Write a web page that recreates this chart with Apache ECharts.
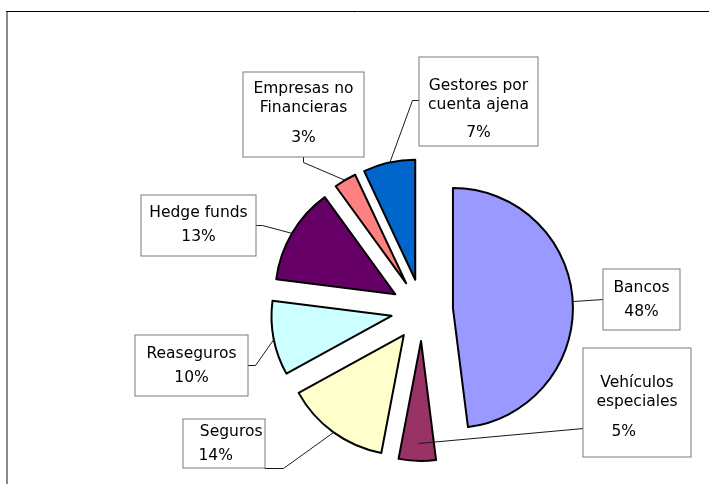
<!DOCTYPE html>
<html>
<head>
<meta charset="utf-8">
<script src="https://cdn.jsdelivr.net/npm/echarts@6/dist/echarts.min.js"></script>
<style>
  html, body { margin: 0; padding: 0; background: #fff; }
  #main { width: 709px; height: 484px; }
</style>
</head>
<body>
<div id="main"></div>
<script>
// Sector shares (%), clockwise from 12 o'clock
const categories = ['Bancos', 'Vehículos\nespeciales', 'Seguros', 'Reaseguros', 'Hedge funds', 'Empresas no\nFinancieras', 'Gestores por\ncuenta ajena'];
const shares = [48, 5, 14, 10, 13, 3, 7];
const sliceColors = ['#9999FF', '#993366', '#FFFFCC', '#CCFFFF', '#660066', '#FF8080', '#0066CC'];

// Pie geometry
const PIE_CENTER = [422, 310];
const PIE_RADIUS = 120;
const EXPLODE = 31;

// Callout boxes: left, top, width, height, first text line centre, percent line centre,
// name alignment, percent alignment, percent inset
const labelBoxes = [
  [603, 269, 76, 60, 287, 311, 'center', 'center', 0],
  [583, 348, 107, 108, 382, 431, 'center', 'left', 28],
  [183, 419, 81, 48, 431, 455, 'right', 'left', 15],
  [135, 335, 112, 60, 353, 377, 'center', 'center', 0],
  [141, 195, 114, 60, 212, 236, 'center', 'center', 0],
  [243, 72, 120, 84, 88, 137, 'center', 'center', 0],
  [419, 57, 118, 88, 85, 132, 'center', 'center', 0]
];

// Leader lines: depth along the slice's mid-angle (fraction of radius), then the
// callout-side points (elbow, attachment on the box)
const leaderRoutes = [
  { depth: 1.0, pts: [[603, 299]] },
  { depth: 0.85, pts: [[583, 428]] },
  { depth: 1.0, pts: [[283, 468], [264, 468]] },
  { depth: 1.0, pts: [[255, 365], [247, 365]] },
  { depth: 1.0, pts: [[262, 225], [255, 225]] },
  { depth: 1.0, pts: [[303, 162], [303, 156]] },
  { depth: 1.0, pts: [[412, 100], [419, 100]] }
];

const FONT = 'DejaVu Sans';
const FONT_SIZE = 15.5;
const NAME_LH = 19;

// Point on a slice's mid-angle ray, after the slice is pulled out
function slicePoint(i, depth) {
  const total = shares.reduce((a, b) => a + b, 0);
  let before = 0;
  for (let k = 0; k < i; k++) before += shares[k];
  const mid = (before + shares[i] / 2) / total * 2 * Math.PI;
  const dist = EXPLODE + depth * PIE_RADIUS;
  return [PIE_CENTER[0] + dist * Math.sin(mid), PIE_CENTER[1] - dist * Math.cos(mid)];
}

const pieData = categories.map((name, i) => ({
  name: name,
  value: shares[i],
  selected: true,
  itemStyle: { color: sliceColors[i] }
}));

const graphics = [
  // chart frame
  { type: 'rect', silent: true, z: 0, shape: { x: 6, y: 11, width: 2, height: 480 }, style: { fill: '#8a8a8a' } },
  { type: 'line', silent: true, z: 0, shape: { x1: 6, y1: 11.5, x2: 709, y2: 11.5 }, style: { stroke: '#000', lineWidth: 1 } }
];

categories.forEach((name, i) => {
  const b = labelBoxes[i];
  const route = leaderRoutes[i];
  const start = slicePoint(i, route.depth);
  const pts = [start].concat(route.pts).map(p => [Math.round(p[0]) + 0.5, Math.round(p[1]) + 0.5]);
  graphics.push({
    type: 'polyline', silent: true, z: 10,
    shape: { points: pts },
    style: { stroke: '#1a1a1a', lineWidth: 1, fill: null }
  });

  const nLines = name.split('\n').length;
  const padTop = b[4] - b[1] - NAME_LH / 2;
  const lastCentre = b[4] + (nLines - 1) * NAME_LH;
  const pctLH = 2 * (b[5] - lastCentre - NAME_LH / 2);
  graphics.push({
    type: 'text', silent: true, z: 20,
    x: b[0] + 0.5, y: b[1] + 0.5,
    style: {
      text: '{n|' + name + '}\n{p|' + shares[i] + '%}',
      width: b[2],
      height: b[3] - padTop,
      padding: [padTop, 0, 0, 0],
      align: 'left',
      verticalAlign: 'top',
      backgroundColor: '#fff',
      borderColor: '#7a7a7a',
      borderWidth: 1,
      rich: {
        n: { fontFamily: FONT, fontSize: FONT_SIZE, lineHeight: NAME_LH, fill: '#000', align: b[6], padding: b[6] === 'right' ? [0, 2, 0, 0] : 0 },
        p: { fontFamily: FONT, fontSize: FONT_SIZE, lineHeight: pctLH, fill: '#000', align: b[7], padding: [0, 0, 0, b[8]] }
      }
    }
  });
});

const chart = echarts.init(document.getElementById('main'), null, { renderer: 'canvas' });

chart.setOption({
  backgroundColor: '#fff',
  animation: false,
  graphic: graphics,
  series: [{
    type: 'pie',
    z: 2,
    center: PIE_CENTER,
    radius: [0, PIE_RADIUS],
    startAngle: 90,
    clockwise: true,
    selectedMode: 'multiple',
    selectedOffset: EXPLODE,
    avoidLabelOverlap: false,
    emphasis: { disabled: true },
    itemStyle: { borderColor: '#000', borderWidth: 2 },
    select: { itemStyle: { borderColor: '#000', borderWidth: 2 } },
    label: { show: false },
    labelLine: { show: false },
    data: pieData
  }]
});
</script>
</body>
</html>
